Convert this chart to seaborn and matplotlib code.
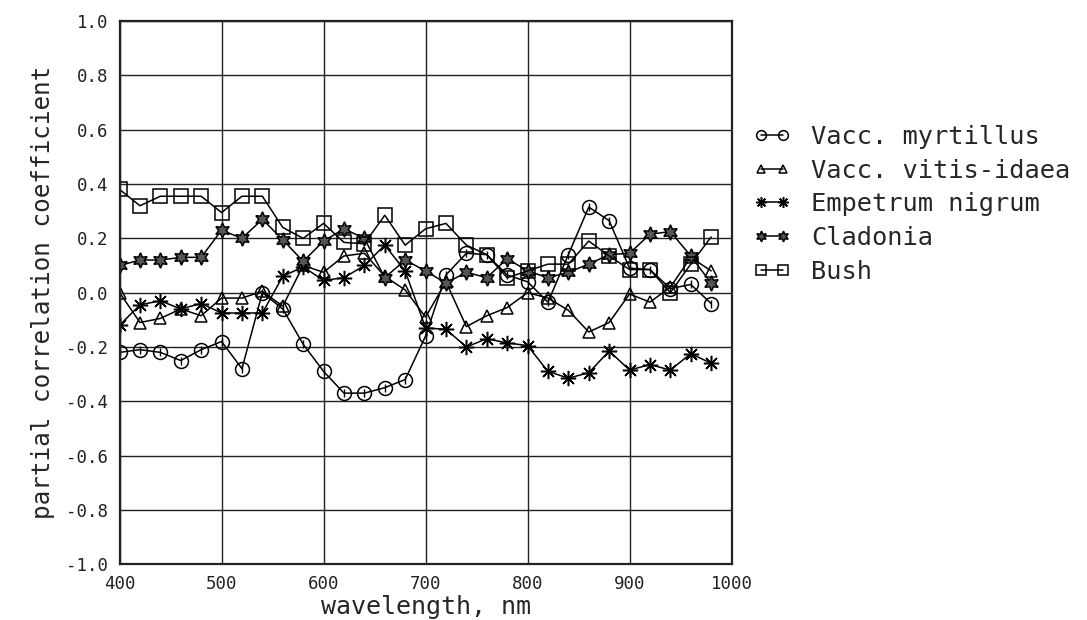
import numpy as np
import pandas as pd
import matplotlib
matplotlib.use("Agg")
import matplotlib.pyplot as plt
import seaborn as sns

wavelength = list(range(400, 1000, 20))

vacc_myrtillus = [-0.22, -0.21, -0.22, -0.25, -0.21, -0.18, -0.28, 0.00, -0.06, -0.19,
                  -0.29, -0.37, -0.37, -0.35, -0.32, -0.16, 0.065, 0.145, 0.14, 0.065,
                  0.04, -0.035, 0.14, 0.315, 0.265, 0.09, 0.085, 0.015, 0.03, -0.04]
vacc_vitis = [0.00, -0.11, -0.095, -0.06, -0.085, -0.02, -0.02, 0.005, -0.05, 0.10,
              0.075, 0.135, 0.145, 0.06, 0.01, -0.09, 0.04, -0.125, -0.085, -0.055,
              0.00, -0.02, -0.065, -0.145, -0.11, -0.005, -0.035, 0.02, 0.13, 0.08]
empetrum = [-0.12, -0.045, -0.03, -0.06, -0.04, -0.075, -0.075, -0.075, 0.06, 0.095,
            0.045, 0.055, 0.10, 0.175, 0.08, -0.13, -0.135, -0.20, -0.17, -0.185,
            -0.195, -0.29, -0.315, -0.295, -0.215, -0.285, -0.265, -0.285, -0.225, -0.26]
cladonia = [0.10, 0.12, 0.12, 0.13, 0.13, 0.23, 0.20, 0.27, 0.195, 0.115,
            0.19, 0.235, 0.20, 0.055, 0.12, 0.08, 0.035, 0.075, 0.055, 0.125,
            0.08, 0.055, 0.075, 0.105, 0.14, 0.145, 0.215, 0.225, 0.135, 0.035]
bush = [0.38, 0.32, 0.355, 0.355, 0.355, 0.295, 0.355, 0.355, 0.24, 0.20,
        0.255, 0.185, 0.18, 0.285, 0.175, 0.235, 0.255, 0.175, 0.14, 0.055,
        0.08, 0.105, 0.105, 0.19, 0.135, 0.085, 0.085, 0.00, 0.105, 0.205]

series_names = ["Vacc. myrtillus", "Vacc. vitis-idaea", "Empetrum nigrum", "Cladonia", "Bush"]
series_values = [vacc_myrtillus, vacc_vitis, empetrum, cladonia, bush]

xticks = [400, 500, 600, 700, 800, 900, 1000]
yticks = [-1.0, -0.8, -0.6, -0.4, -0.2, 0.0, 0.2, 0.4, 0.6, 0.8, 1.0]

sns.set_theme(style="white")
plt.rcParams["font.family"] = ["DejaVu Sans Mono", "DejaVu Sans"]

fig = plt.figure(figsize=(10.87, 6.2), dpi=100)
ax = fig.add_axes([0.110, 0.090, 0.563, 0.876])

styles = {
    "Vacc. myrtillus": dict(marker="o", markerfacecolor="none", markersize=10),
    "Vacc. vitis-idaea": dict(marker="^", markerfacecolor="none", markersize=8),
    "Empetrum nigrum": dict(marker=(8, 2, 0), markerfacecolor="none", markersize=11),
    "Cladonia": dict(marker=(6, 1, 0), markerfacecolor="#555555", markersize=11),
    "Bush": dict(marker="s", markerfacecolor="none", markersize=10),
}

for name, vals in zip(series_names, series_values):
    df = pd.DataFrame({"wavelength": wavelength, "value": vals})
    sns.lineplot(data=df, x="wavelength", y="value", ax=ax, color="black",
                 linewidth=1.1, markeredgecolor="black", markeredgewidth=1.1,
                 label=name, **styles[name])
    if name == "Vacc. myrtillus":
        sns.scatterplot(data=df, x="wavelength", y="value", ax=ax, marker="|",
                        color="black", s=30, linewidth=1.0, legend=False)

ax.set_xlim(400, 1000)
ax.set_ylim(-1.0, 1.0)
ax.set_xticks(xticks)
ax.set_yticks(yticks)
ax.set_xticklabels([str(t) for t in xticks], fontsize=12.5)
ax.set_yticklabels([f"{t:.1f}" for t in yticks], fontsize=12.5)
ax.tick_params(axis="both", length=0, pad=8, colors="#222222")
ax.grid(True, color="#222222", linewidth=1.0)
for s in ax.spines.values():
    s.set_color("#222222")
    s.set_linewidth(1.6)

ax.set_xlabel("wavelength, nm", fontsize=18, labelpad=1)
ax.set_ylabel("partial correlation coefficient", fontsize=17.5, labelpad=8)

ax.legend(loc="upper left", bbox_to_anchor=(730 / 1087, 1 - 102 / 620),
          bbox_transform=fig.transFigure, frameon=False, numpoints=2,
          handlelength=1.5, handletextpad=0.8, labelspacing=0.38,
          fontsize=18.3, markerscale=0.7)

fig.savefig("out.png", dpi=100)
